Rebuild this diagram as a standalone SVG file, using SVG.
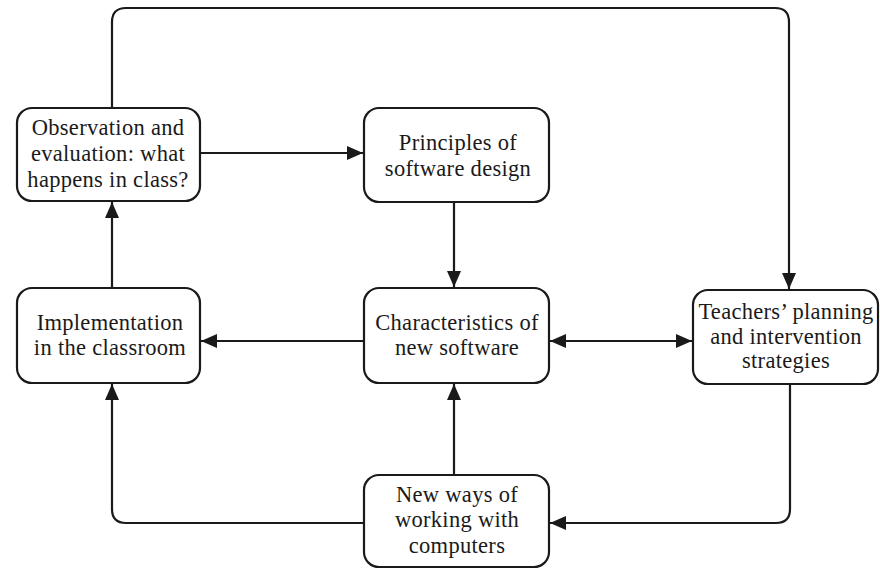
<svg xmlns="http://www.w3.org/2000/svg" width="880" height="569" viewBox="0 0 880 569">
<style>
.box{fill:#fff;stroke:#1a1a1a;stroke-width:2.2}
.t{font-family:"Liberation Serif","DejaVu Serif",serif;font-size:22.5px;letter-spacing:0.3px;fill:#1a1a1a;text-anchor:middle}
.c{fill:none;stroke:#1a1a1a;stroke-width:2.2}
</style>
<defs>
<marker id="ah" viewBox="0 0 16 14" refX="16" refY="7" markerWidth="16" markerHeight="14" markerUnits="userSpaceOnUse" orient="auto-start-reverse">
<path d="M0,0 L16,7 L0,14 z" fill="#1a1a1a"/>
</marker>
</defs>
<rect width="880" height="569" fill="#fff"/>
<g id="connectors">
<path class="c" d="M112,108 V22 Q112,8 126,8 H775 Q789,8 789,22 V289" marker-end="url(#ah)"/>
<path class="c" d="M200,153 H363" marker-end="url(#ah)"/>
<path class="c" d="M454,202 V287" marker-end="url(#ah)"/>
<path class="c" d="M112,288 V202" marker-end="url(#ah)"/>
<path class="c" d="M364,341 H201" marker-end="url(#ah)"/>
<path class="c" d="M550,341 H692" marker-start="url(#ah)" marker-end="url(#ah)"/>
<path class="c" d="M454,475 V384" marker-end="url(#ah)"/>
<path class="c" d="M364,523 H126 Q112,523 112,509 V384" marker-end="url(#ah)"/>
<path class="c" d="M790,384 V509 Q790,523 776,523 H550" marker-end="url(#ah)"/>
</g>
<g id="observation">
<rect class="box" x="17" y="108" width="183" height="93" rx="15"/>
<text class="t" x="108" y="135">Observation and</text>
<text class="t" x="108" y="161">evaluation: what</text>
<text class="t" x="108" y="187">happens in class?</text>
</g>
<g id="principles">
<rect class="box" x="364" y="108" width="185" height="94" rx="15"/>
<text class="t" x="458" y="150">Principles of</text>
<text class="t" x="458" y="176">software design</text>
</g>
<g id="implementation">
<rect class="box" x="17" y="288" width="183" height="95" rx="15"/>
<text class="t" x="110" y="330">Implementation</text>
<text class="t" x="110" y="355">in the classroom</text>
</g>
<g id="characteristics">
<rect class="box" x="364" y="288" width="185" height="95" rx="15"/>
<text class="t" x="457" y="330">Characteristics of</text>
<text class="t" x="457" y="355">new software</text>
</g>
<g id="teachers">
<rect class="box" x="693" y="290" width="185" height="94" rx="15"/>
<text class="t" x="786" y="319">Teachers’ planning</text>
<text class="t" x="786" y="344">and intervention</text>
<text class="t" x="786" y="368">strategies</text>
</g>
<g id="newways">
<rect class="box" x="364" y="475" width="185" height="92" rx="15"/>
<text class="t" x="457" y="502">New ways of</text>
<text class="t" x="457" y="527">working with</text>
<text class="t" x="457" y="553">computers</text>
</g>
</svg>
